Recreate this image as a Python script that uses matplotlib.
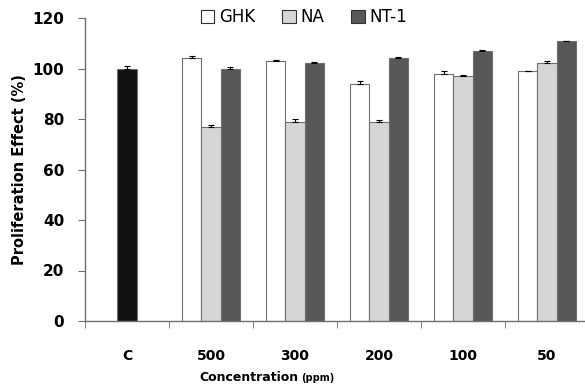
import matplotlib
matplotlib.use("Agg")
import matplotlib.pyplot as plt
import numpy as np

categories = ["C", "500", "300", "200", "100", "50"]
control_value = 100
control_err = 1.0
series_names = ["GHK", "NA", "NT-1"]
ghk = [104, 103, 94, 98, 99]
na = [77, 79, 79, 97, 102]
nt1 = [100, 102, 104, 107, 111]
ghk_err = [1.0, 0.5, 1.0, 1.0, 0.0]
na_err = [0.5, 1.0, 0.5, 0.5, 1.0]
nt1_err = [0.5, 0.5, 0.5, 0.5, 0.0]
yticks = [0, 20, 40, 60, 80, 100, 120]

plt.rcParams['font.family'] = ['DejaVu Sans']
fig = plt.figure(figsize=(5.85, 3.87), dpi=100)
# axes right edge beyond figure (chart is cropped on the right)
ax = fig.add_axes([85/585, 1-321/387, 504/585, (321-18)/387])

w = 0.23
edge = "#707070"
ekw = dict(ecolor="black", elinewidth=0.8, capsize=2.5, capthick=0.8)
# control bar
ax.bar(0, control_value, width=w, color="#111111", edgecolor=edge, linewidth=0.8,
       yerr=[[0], [control_err]], error_kw=ekw)
x = np.arange(1, len(categories))
series = [ghk, na, nt1]
errs = [ghk_err, na_err, nt1_err]
colors = ["white", "#d6d6d6", "#575757"]
offs = [-w, 0, w]
handles = []
for s, e, c, o, n in zip(series, errs, colors, offs, series_names):
    h = ax.bar(x + o, s, width=w, color=c, edgecolor=edge, linewidth=0.8,
               yerr=[np.zeros(len(e)), e], error_kw=ekw, label=n)
    handles.append(h)

ax.set_xlim(-0.5, len(categories) - 0.5)
ax.set_ylim(0, 120)
ax.set_yticks(yticks)
ax.set_yticklabels([str(t) for t in yticks], fontsize=11, fontweight="bold")
ax.set_xticks(np.arange(len(categories)))
ax.set_xticklabels(categories, fontsize=10, fontweight="bold")
ax.tick_params(axis="x", length=0, pad=20)
ax.set_xticks(np.arange(len(categories)) - 0.5, minor=True)
ax.tick_params(axis="x", which="minor", length=5, color=edge, direction="out")
ax.tick_params(axis="y", length=5, color=edge, direction="out", pad=10)
for sp in ["top", "right"]:
    ax.spines[sp].set_visible(False)
for sp in ["left", "bottom"]:
    ax.spines[sp].set_color(edge)
    ax.spines[sp].set_linewidth(1.0)

ax.set_ylabel("Proliferation Effect (%)", fontsize=10.5, fontweight="bold", labelpad=4)
fig.text(0.51, 0.025, "Concentration", fontsize=9, fontweight="bold", ha="right", va="center")
fig.text(0.515, 0.023, "(ppm)", fontsize=7, fontweight="bold", ha="left", va="center")

leg = fig.legend(handles=handles, labels=series_names, loc="center", bbox_to_anchor=(0.52, 0.955),
                 ncol=3, frameon=False, fontsize=12, handlelength=0.8, handleheight=0.8,
                 handletextpad=0.3, columnspacing=1.6)
for p in leg.get_patches():
    p.set_edgecolor("#333333")

fig.savefig("out.png", dpi=100)
